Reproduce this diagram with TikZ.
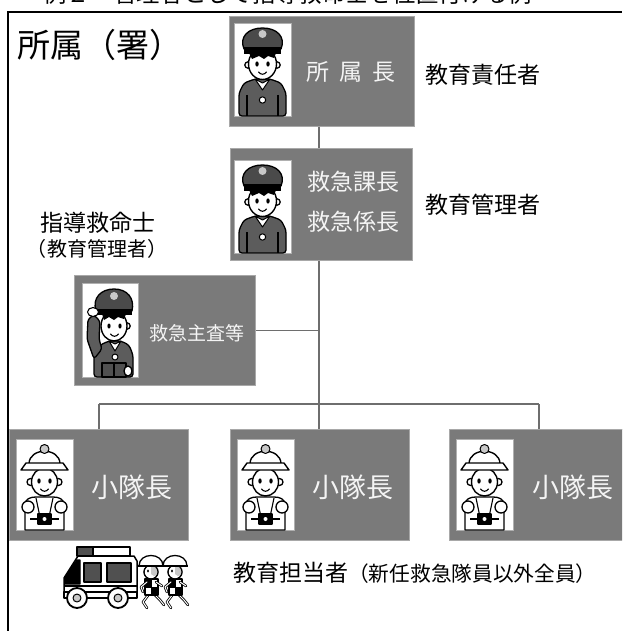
\documentclass[tikz,border=0pt]{standalone}
\usepackage{fontspec}
\newfontfamily\jp{Noto Sans CJK JP}
\definecolor{boxgray}{HTML}{7A7A7A}
\definecolor{boxedge}{HTML}{A8A8A8}
\definecolor{linkgray}{HTML}{6E6E6E}
\definecolor{jacket}{HTML}{5C5C5C}
\definecolor{capgray}{HTML}{4A4A4A}
\definecolor{badge}{HTML}{C8C8C8}
\definecolor{photoedge}{HTML}{B0B0B0}
\definecolor{boxtext}{HTML}{F4F4F4}
\definecolor{glass}{HTML}{505050}

\tikzset{
  unitbox/.style={draw=boxedge, fill=boxgray, line width=0.8, rectangle,
    anchor=north west, inner sep=0},
  boxlabel/.style={text=boxtext, inner sep=0, align=center},
  lbl/.style={text=black, inner sep=0},
  link/.style={draw=linkgray, line width=1.6},
  frameline/.style={draw=black, line width=2},
  ink/.style={draw=black, line width=1.3, line join=round},
  % officer with a peaked cap
  officer/.pic={
    \filldraw[fill=white, draw=photoedge, line width=0.8] (0,0) rectangle (57,93);
    \filldraw[ink, fill=jacket, rounded corners=3]
      (5,93) -- (5,70) -- (10,60) -- (21,56) -- (36,56) -- (47,60) -- (52,70) -- (52,93) -- cycle;
    \draw[line width=1.1] (13,72) -- (13,93) (44,72) -- (44,93);
    \filldraw[ink, fill=white, line width=1] (21,56) -- (28.5,67) -- (36,56) -- (28.5,60) -- cycle;
    \filldraw[ink, fill=white, line width=1] (28.5,77) circle (3.2);
    \filldraw[ink, fill=white] (14,42) circle (3.2) (43,42) circle (3.2);
    \filldraw[ink, fill=white, line width=1.4] (28.5,41) ellipse (14 and 15.5);
    \fill (15,30) -- (42,30) -- (40,35) -- (34,33) -- (30,36) -- (25,33) -- (18,36) -- cycle;
    \filldraw[ink, fill=capgray]
      (10,26) .. controls (5,14) and (14,5) .. (28.5,5) .. controls (43,5) and (52,14) .. (47,26) -- cycle;
    \fill (10,24) rectangle (47,31);
    \fill[badge] (28.5,11) circle (4);
    \fill (23,41) ellipse (1.7 and 2.6) (34,41) ellipse (1.7 and 2.6);
    \draw[line width=1.1, line cap=round] (24.5,49) .. controls (27,52) and (30,52) .. (32.5,49);
  },
  % officer giving a salute
  saluter/.pic={
    \filldraw[fill=white, draw=photoedge, line width=0.8] (0,0) rectangle (56,94);
    \filldraw[ink, fill=jacket, rounded corners=3]
      (12,94) -- (12,72) -- (18,62) -- (27,58) -- (39,58) -- (47,62) -- (51,72) -- (51,94) -- cycle;
    \filldraw[ink, fill=glass] (20,80) rectangle (44,94);
    \draw[line width=1.1] (32,80) -- (32,94);
    \filldraw[ink, fill=white, line width=1] (27,58) -- (33,68) -- (39,58) -- (33,61) -- cycle;
    \filldraw[ink, fill=white, line width=1] (33,74) circle (3);
    \filldraw[ink, fill=white] (46,88) ellipse (4 and 5);
    \filldraw[ink, fill=white] (45,43) circle (3.2);
    \filldraw[ink, fill=white, line width=1.4] (32,43) ellipse (13 and 15);
    \fill (20,31) -- (44,31) -- (42,36) -- (36,34) -- (32,37) -- (27,34) -- (22,37) -- cycle;
    \filldraw[ink, fill=capgray]
      (14,28) .. controls (10,15) and (19,6) .. (32,6) .. controls (45,6) and (53,15) .. (50,28) -- cycle;
    \fill (14,26) rectangle (50,32);
    \fill[badge] (32,13) circle (4);
    \filldraw[ink, fill=jacket, rounded corners=3]
      (12,76) -- (5,56) -- (6,36) -- (12,32) -- (18,38) -- (17,56) -- (20,66) -- cycle;
    \filldraw[ink, fill=white, line width=1.1] (11,29) ellipse (5.5 and 4.5);
    \fill (27,43) ellipse (1.6 and 2.5) (38,43) ellipse (1.6 and 2.5);
    \draw[line width=1.1, line cap=round] (28.5,51) .. controls (31,54) and (34,54) .. (36.5,51);
  },
  % squad leader in a rescue helmet
  rescuer/.pic={
    \filldraw[fill=white, draw=photoedge, line width=0.8] (0,0) rectangle (57,91);
    \filldraw[ink, fill=white]
      (9,91) -- (9,66) .. controls (9,60) and (14,58) .. (20,58) -- (37,58)
      .. controls (43,58) and (48,60) .. (48,66) -- (48,91) -- cycle;
    \filldraw[ink, fill=white] (12,68) circle (6) (45,68) circle (6);
    \draw[line width=1.1] (20,59) -- (24,78) (37,59) -- (33,78);
    \draw[line width=1.1] (14,80) -- (43,80);
    \filldraw[ink, fill=black] (22,75) rectangle (35,85);
    \fill[white] (28.5,80) circle (2);
    \filldraw[ink, fill=white] (14.5,43) circle (3.5) (42.5,43) circle (3.5);
    \filldraw[ink, fill=white, line width=1.4] (28.5,43) ellipse (13 and 14);
    \fill (23,42) ellipse (1.7 and 2.6) (34,42) ellipse (1.7 and 2.6);
    \draw[line width=1.1, line cap=round] (24.5,50) .. controls (27,53) and (30,53) .. (32.5,50);
    \filldraw[ink, fill=white, line width=1.4]
      (13,25) .. controls (13,8) and (44,8) .. (44,25) -- cycle;
    \filldraw[ink, fill=badge, line width=1] (28.5,10) circle (4.5);
    \filldraw[ink, fill=white, line width=1.4] (5,31) -- (10,24) -- (47,24) -- (52,31) -- cycle;
  },
  % small running figure in a helmet
  runner/.pic={
    \draw[black, line width=2.6, line cap=round, line join=round]
      (10,42) -- (4,50) -- (8,56) (15,42) -- (21,48) -- (25,53);
    \draw[white, line width=1, line cap=round, line join=round]
      (10,42) -- (4,50) -- (8,56) (15,42) -- (21,48) -- (25,53);
    \filldraw[ink, fill=white, line width=1.1] (6,27) rectangle (19,43);
    \draw[line width=1] (6,35) -- (19,35) (12.5,27) -- (12.5,43);
    \fill (6,27) rectangle (12.5,35) (12.5,35) rectangle (19,43);
    \draw[black, line width=2.6, line cap=round, line join=round]
      (8,30) -- (2,35) -- (4,40) (17,30) -- (23,34);
    \draw[white, line width=1, line cap=round, line join=round]
      (8,30) -- (2,35) -- (4,40) (17,30) -- (23,34);
    \filldraw[ink, fill=white, line width=1.1] (12,20) ellipse (7 and 7);
    \fill[badge] (12,14) -- (19,14) -- (19,22) .. controls (16,25) and (13,24) .. (12,22) -- cycle;
    \draw[ink, line width=1.1] (12,20) ellipse (7 and 7);
    \fill (9,19) ellipse (1 and 1.6);
    \filldraw[ink, fill=white, line width=1.3] (0,14) .. controls (0,0) and (24,0) .. (24,14) -- cycle;
    \draw[ink, line width=1.6] (-1,14) -- (25,14);
  }
}

\begin{document}
\begin{tikzpicture}[x=1pt, y=-1pt]
  \useasboundingbox (0,0) rectangle (622,631);
  \clip (0,0) rectangle (622,631);

  % heading line, partly above the page
  \node[lbl, anchor=base west, font=\jp\fontsize{23.3}{26}\selectfont] (caption)
    at (43,3) {例２　管理者として指導救命士を位置付ける例};

  % frame
  \draw[frameline] (8,631) -- (8,12) -- (622,12);

  \node[lbl, anchor=west, font=\jp\fontsize{33}{36}\selectfont] (dept) at (17,45) {所属（署）};

  % chief
  \node[unitbox, minimum width=185, minimum height=110] (chief) at (229,16) {};
  \pic at (234,23) {officer};
  \node[boxlabel, font=\jp\fontsize{23}{26}\selectfont] (chieftxt) at (351,72)
    {所\hspace{10pt}属\hspace{10pt}長};
  \node[lbl, anchor=west, font=\jp\fontsize{23}{26}\selectfont] (resp) at (425,75) {教育責任者};

  % section heads
  \node[unitbox, minimum width=182, minimum height=112] (heads) at (230,148) {};
  \pic at (234,160) {officer};
  \node[boxlabel, font=\jp\fontsize{23}{40}\selectfont] (headstxt) at (353,202)
    {救急課長\\救急係長};
  \node[lbl, anchor=west, font=\jp\fontsize{23}{26}\selectfont] (mgr) at (425,205) {教育管理者};

  % instructor
  \node[lbl, font=\jp\fontsize{23}{26}\selectfont] (instr) at (98,223) {指導救命士};
  \node[lbl, font=\jp\fontsize{20}{24}\selectfont] (instrrole) at (97,249) {（教育管理者）};
  \node[unitbox, minimum width=181, minimum height=110] (staff) at (74,275) {};
  \pic at (82,283) {saluter};
  \node[boxlabel, font=\jp\fontsize{19}{22}\selectfont] (stafftxt) at (197,333) {救急主査等};

  % squad leaders
  \node[unitbox, minimum width=179, minimum height=111] (sqL) at (9,429) {};
  \node[unitbox, minimum width=179, minimum height=111] (sqM) at (230,429) {};
  \node[unitbox, minimum width=179, minimum height=111] (sqR) at (449,429) {};
  \pic at (16,439) {rescuer};
  \pic at (237,439) {rescuer};
  \pic at (456,439) {rescuer};
  \node[boxlabel, font=\jp\fontsize{27}{30}\selectfont] (sqLtxt) at (132,487) {小隊長};
  \node[boxlabel, font=\jp\fontsize{27}{30}\selectfont] (sqMtxt) at (353,487) {小隊長};
  \node[boxlabel, font=\jp\fontsize{27}{30}\selectfont] (sqRtxt) at (573,487) {小隊長};

  % connectors
  \coordinate (spine) at (319,0);
  \coordinate (busL) at (99,404);
  \coordinate (busM) at (319,404);
  \coordinate (busR) at (539,404);
  \draw[link] (chief.south -| spine) -- (heads.north -| spine);
  \draw[link] (heads.south -| spine) -- (busM);
  \draw[link] (staff.east) -- (staff.east -| spine);
  \draw[link] (busL) -- (busR);
  \draw[link] (busL) -- (sqL.north -| busL);
  \draw[link] (busM) -- (sqM.north -| busM);
  \draw[link] (busR) -- (sqR.north -| busR);

  % ambulance
  \filldraw[ink, fill=glass] (77,547) rectangle (93,556);
  \filldraw[ink, fill=white] (93,547) rectangle (130,556);
  \filldraw[ink, fill=white, line width=1.5]
    (64,597) -- (64,578) -- (78,556) -- (134,556) -- (137,561) -- (137,597) -- cycle;
  \filldraw[ink, fill=black] (65,577) -- (77,560) -- (80,560) -- (80,584) -- (65,584) -- cycle;
  \filldraw[ink, fill=glass] (84,563) rectangle (101,582);
  \filldraw[ink, fill=glass] (107,563) rectangle (131,582);
  \draw[line width=2.5] (64,586) -- (137,586);
  \filldraw[ink, fill=white, line width=1.5] (64,592) rectangle (137,598);
  \filldraw[ink, fill=white, line width=1.8] (77,598) circle (10) (118,598) circle (10);
  \filldraw[ink, fill=badge, line width=1] (77,598) circle (4) (118,598) circle (4);

  % runners behind the ambulance
  \pic at (139,552) {runner};
  \pic at (163,552) {runner};

  \node[lbl, anchor=west] (trainer) at (233,573)
    {{\jp\fontsize{23}{26}\selectfont 教育担当者}{\jp\fontsize{20.7}{24}\selectfont （新任救急隊員以外全員）}};
\end{tikzpicture}
\end{document}
